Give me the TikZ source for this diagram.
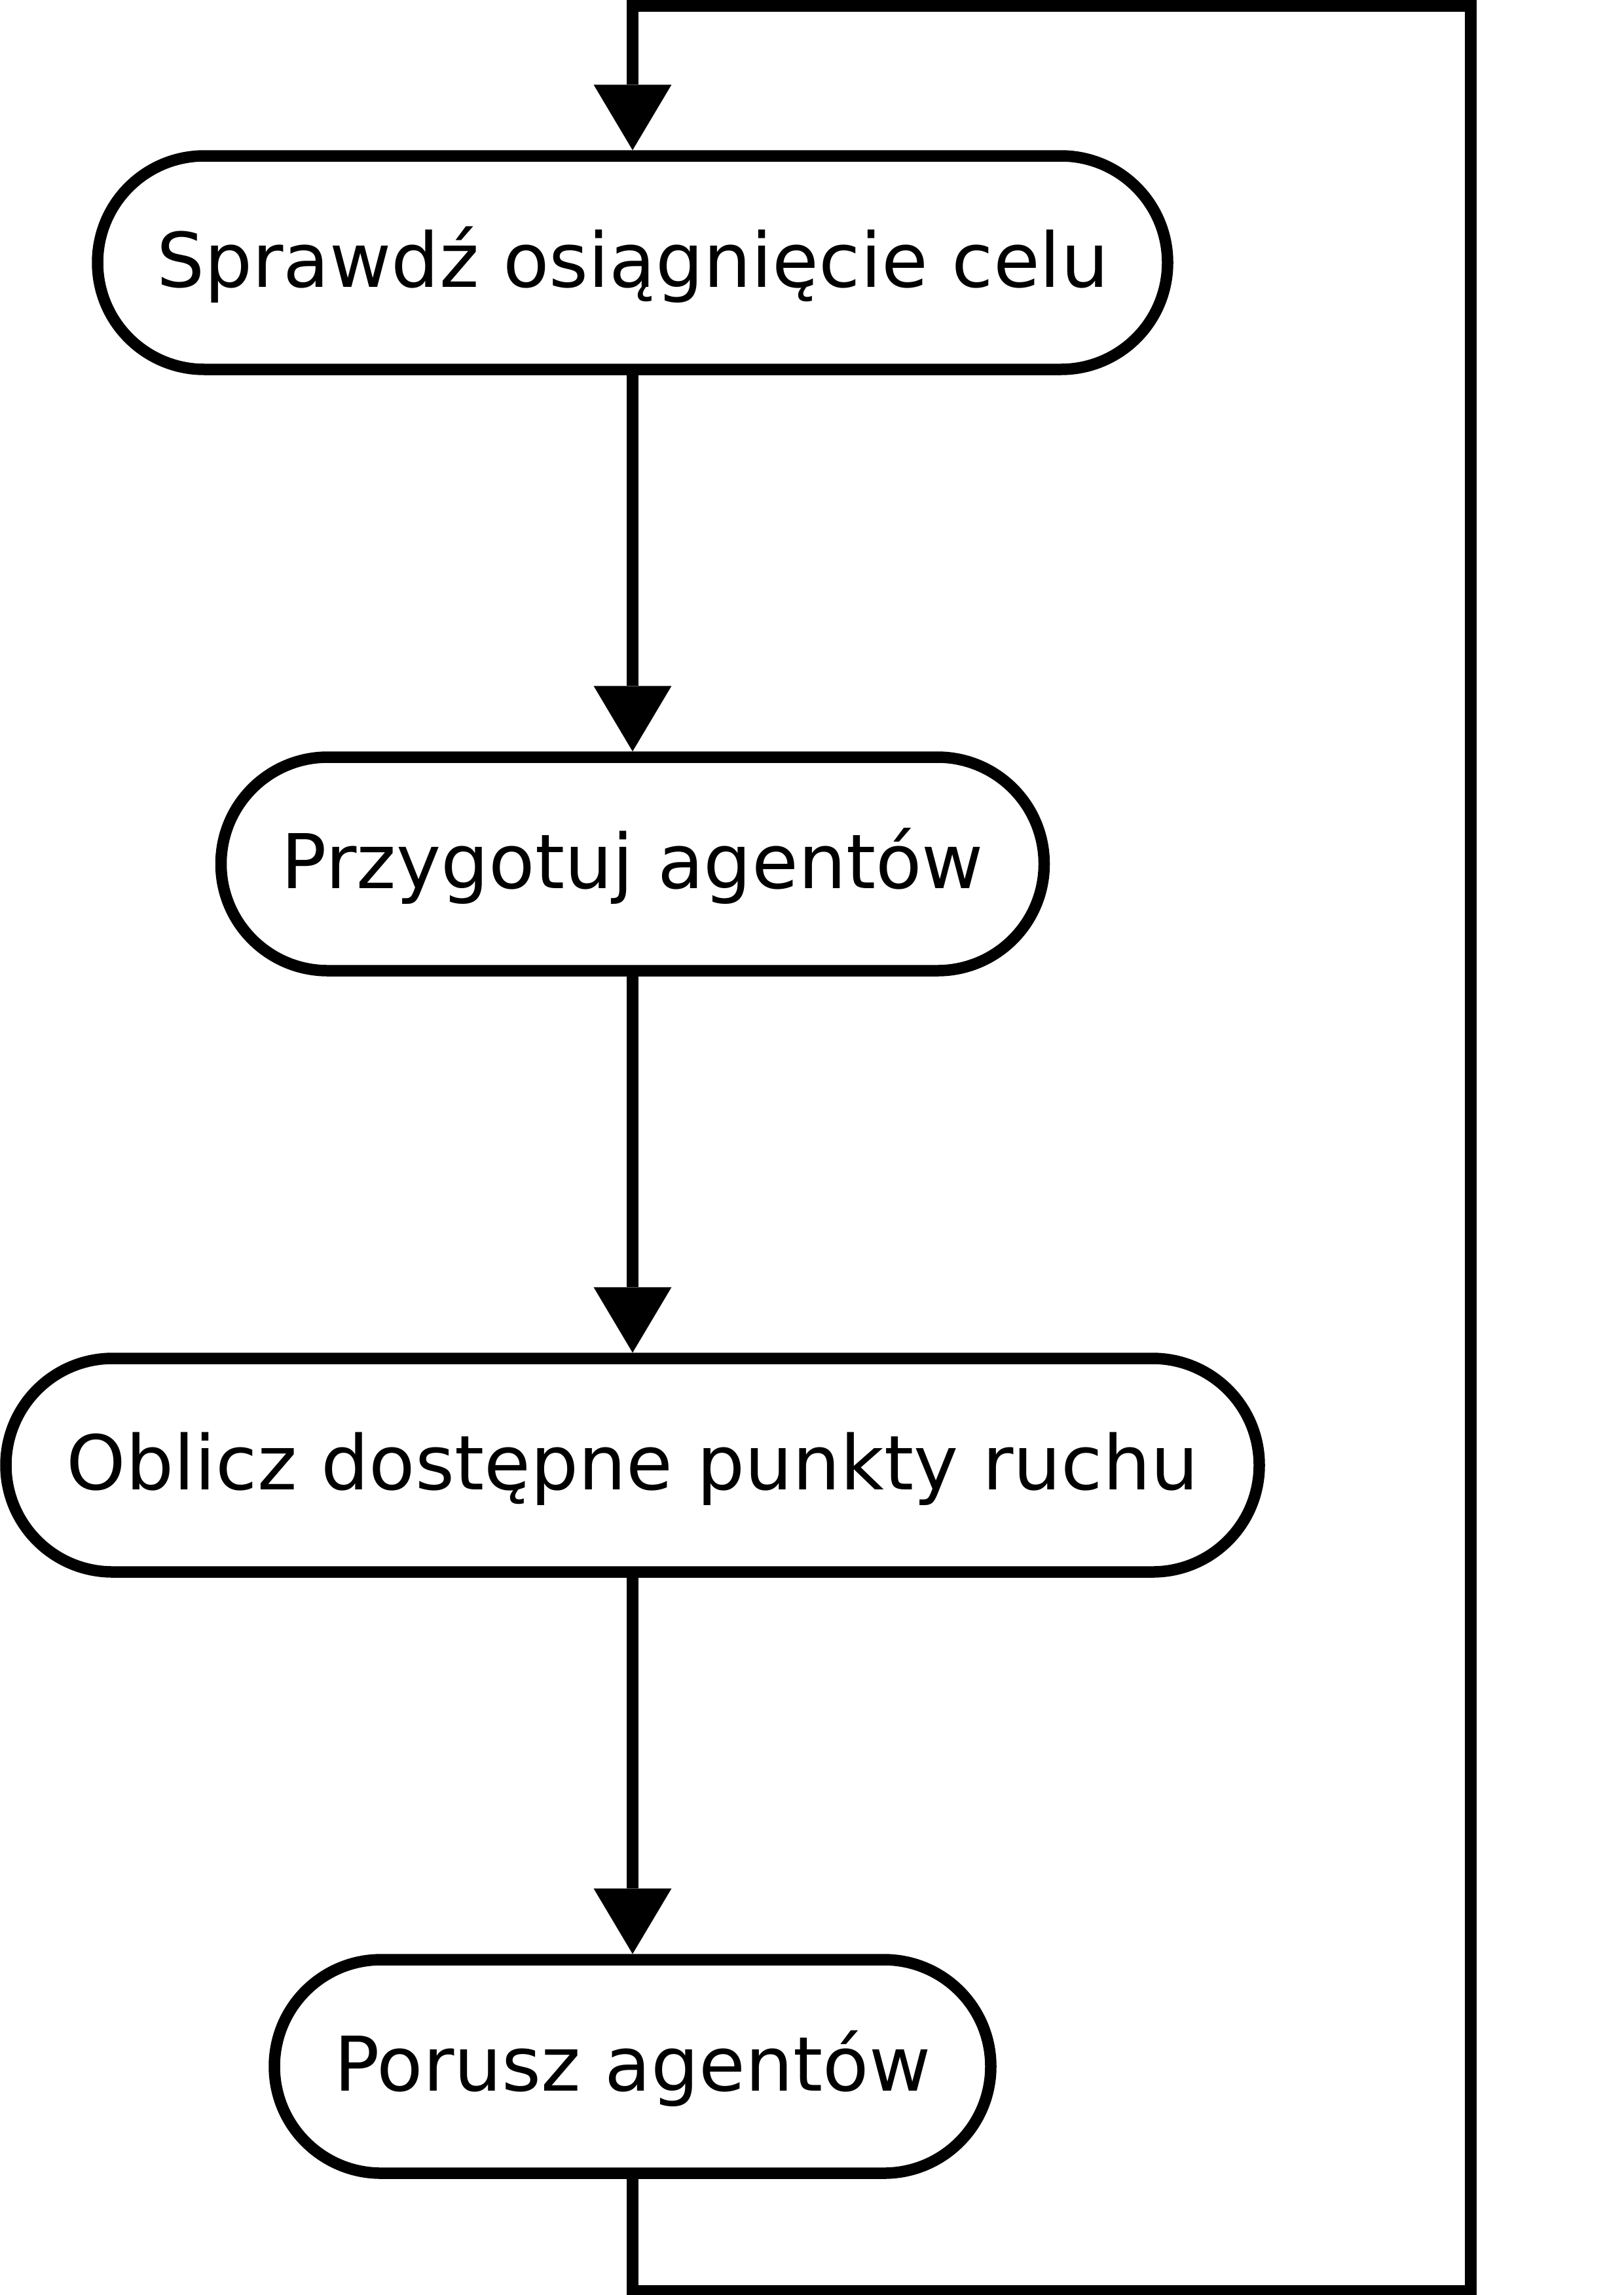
\documentclass[tikz,border=0pt]{standalone}
\usepackage{fontspec}
\setmainfont{DejaVu Sans}
\usetikzlibrary{arrows.meta,positioning,calc}

\begin{document}
\begin{tikzpicture}[blk/.style={draw=black,fill=white,line width=0.175cm,rounded corners=1.63cm,minimum height=3.26cm,inner sep=0pt,text height=0.74cm,text depth=0pt,font=\fontsize{32.8pt}{40pt}\selectfont},arr/.style={-{Triangle[length=1cm,width=1.19cm,line width=0pt]},draw=black,line width=0.175cm}]
\useasboundingbox (0,0) rectangle (24.79,-35.04);
\node[blk,minimum width=16.34cm] (spr) at (9.66,-4.01) {Sprawdź osiągnięcie celu};
\node[blk,minimum width=12.57cm] (prz) at (9.66,-13.19) {Przygotuj agentów};
\node[blk,minimum width=19.14cm] (obl) at (9.66,-22.37) {Oblicz dostępne punkty ruchu};
\node[blk,minimum width=10.94cm] (por) at (9.66,-31.55) {Porusz agentów};
\coordinate (br) at (22.46,-34.98);
\coordinate (tr) at (22.46,-0.09);
\coordinate (tl) at (9.66,-0.09);
\draw[arr] (spr)--(prz);
\draw[arr] (prz)--(obl);
\draw[arr] (obl)--(por);
% powrot do poczatku petli
\draw[arr] (por.south)--(por.south |- br)--(br)--(tr)--(tl)--(spr.north);
\end{tikzpicture}
\end{document}
